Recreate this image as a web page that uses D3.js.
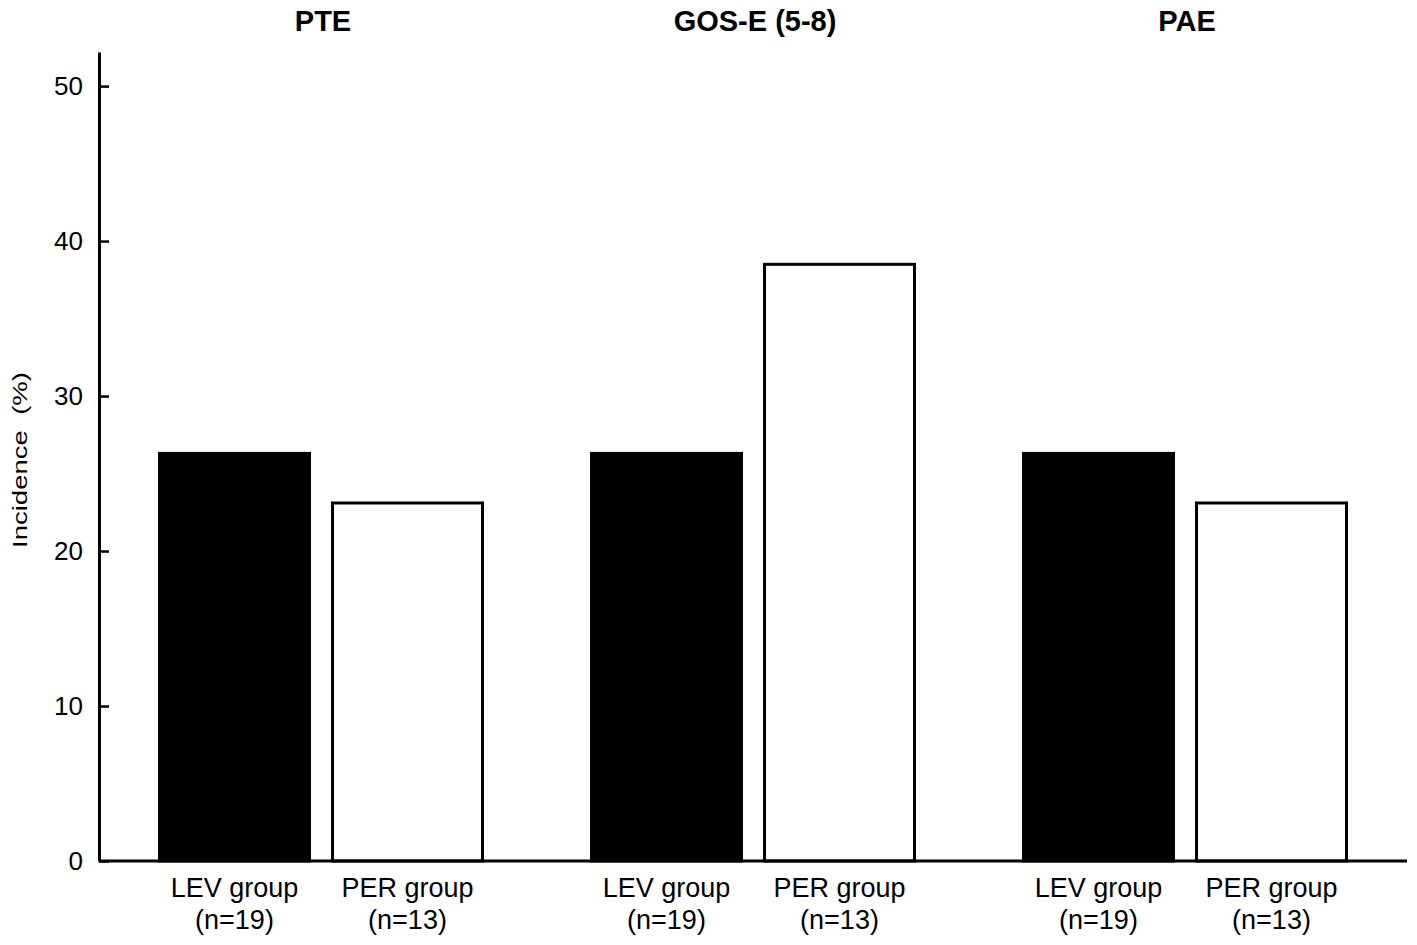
<!DOCTYPE html>
<html>
<head>
<meta charset="utf-8">
<script src="https://cdn.jsdelivr.net/npm/d3@7"></script>
<style>
    html, body { margin: 0; padding: 0; background: #fff; }
    svg { display: block; font-family: "Liberation Sans", Arial, sans-serif; }
</style>
</head>
<body>
<svg id="chart" width="1417" height="945"></svg>
<script>
// data
const outcomes = ["PTE", "GOS-E (5-8)", "PAE"];
const groups = ["LEV group", "PER group"];
const groupSizes = ["(n=19)", "(n=13)"];
const levValues = [26.3, 26.3, 26.3];
const perValues = [23.1, 38.5, 23.1];
const yTicks = [0, 10, 20, 30, 40, 50];

const
    svg = d3.select("#chart"),
    axisX = 99,
    axisEnd = 1407,
    baseY = 861;

const y = d3.scaleLinear()
    .domain([0, 52.2])
    .range([baseY, 52]);

const x0 = d3.scaleBand()
    .domain(outcomes)
    .range([105, 1401]);

const x1 = d3.scaleBand()
    .domain(groups)
    .range([54.5, 377.5])
    .paddingInner(0.133);

const rows = outcomes.map((o, i) => ({
    outcome: o,
    bars: [
        { group: groups[0], value: levValues[i], fill: "#000" },
        { group: groups[1], value: perValues[i], fill: "#fff" }
    ]
}));

// bars
const g = svg.append("g")
    .selectAll("g")
    .data(rows)
    .join("g")
    .attr("transform", d => `translate(${x0(d.outcome)},0)`);

g.selectAll("rect")
    .data(d => d.bars)
    .join("rect")
    .attr("x", d => x1(d.group))
    .attr("y", d => y(d.value))
    .attr("width", x1.bandwidth())
    .attr("height", d => y(0) - y(d.value))
    .attr("fill", d => d.fill)
    .attr("stroke", "#000")
    .attr("stroke-width", 3);

// group labels under each bar
g.selectAll("text.grp")
    .data(d => d.bars.map((b, j) => ({ ...b, size: groupSizes[j] })))
    .join("text")
    .attr("class", "grp")
    .attr("text-anchor", "middle")
    .attr("font-size", 27)
    .attr("x", d => x1(d.group) + x1.bandwidth() / 2)
    .attr("y", 897)
    .call(t => t.append("tspan").text(d => d.group))
    .call(t => t.append("tspan")
        .attr("x", d => x1(d.group) + x1.bandwidth() / 2)
        .attr("dy", 32)
        .text(d => d.size));

// outcome titles
svg.append("g")
    .selectAll("text")
    .data(outcomes)
    .join("text")
    .attr("x", d => x0(d) + x0.bandwidth() / 2 + 2)
    .attr("y", 31)
    .attr("text-anchor", "middle")
    .attr("font-size", 29)
    .attr("font-weight", "bold")
    .text(d => d);

// y axis, ticks point inward
const yAxis = d3.axisLeft(y)
    .tickValues(yTicks)
    .tickSizeInner(-10)
    .tickSizeOuter(0)
    .tickPadding(16);

svg.append("g")
    .attr("transform", `translate(${axisX},0)`)
    .call(yAxis)
    .call(a => a.select(".domain").attr("stroke-width", 3))
    .call(a => a.selectAll(".tick line").attr("stroke-width", 2.5))
    .call(a => a.selectAll(".tick text")
        .attr("font-size", 26)
        .attr("font-family", "Liberation Sans, Arial, sans-serif")
        .attr("fill", "#000"));

// x axis baseline
svg.append("line")
    .attr("x1", axisX)
    .attr("x2", axisEnd)
    .attr("y1", baseY)
    .attr("y2", baseY)
    .attr("stroke", "#000")
    .attr("stroke-width", 3);

// y label
svg.append("text")
    .attr("transform", "translate(27,460) rotate(-90)")
    .attr("text-anchor", "middle")
    .attr("font-size", 21)
    .attr("textLength", 176)
    .attr("lengthAdjust", "spacingAndGlyphs")
    .attr("xml:space", "preserve")
    .text("Incidence  (%)");
</script>
</body>
</html>
